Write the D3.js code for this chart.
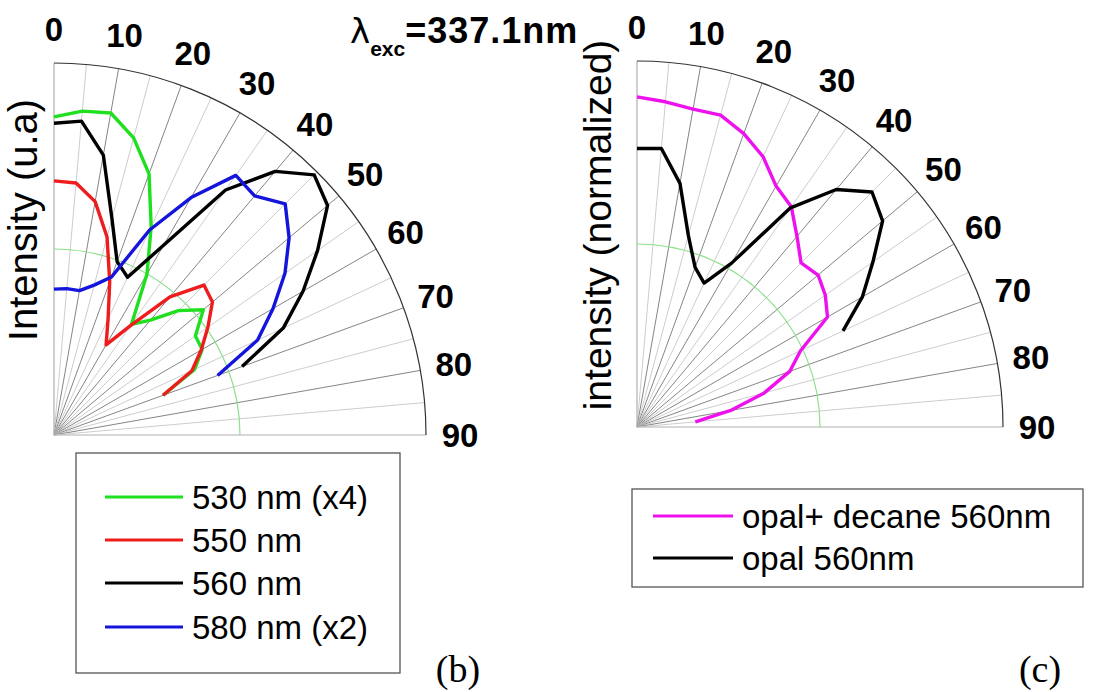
<!DOCTYPE html>
<html><head><meta charset="utf-8">
<script src="https://cdn.jsdelivr.net/npm/d3@7"></script>
<style>body{margin:0;background:#fff}svg{display:block}</style>
</head><body>
<svg id="chart" width="1095" height="692"></svg>
<script>
// ---- data (angle in degrees from vertical, intensity normalized to outer circle) ----
const tickAngles = [0,10,20,30,40,50,60,70,80,90];
const anglesB = [0,5,10,15,20,25,30,35,40,45,50,55,60,65,70];
const green530 = [0.855,0.874,0.879,0.827,0.747,0.618,0.50,0.363,0.403,0.473,0.524,0.464,0.46,0.417,0.312];
const red550   = [0.683,0.68,0.637,0.551,0.438,0.344,0.28,0.36,0.485,0.57,0.556,0.505,0.457,0.409,0.312];
const black560 = [0.838,0.847,0.764,0.602,0.496,0.468,0.589,0.804,0.925,0.989,0.96,0.865,0.773,0.68,0.538];
const blue580  = [0.392,0.395,0.394,0.417,0.452,0.608,0.737,0.852,0.839,0.879,0.825,0.758,0.68,0.604,0.468];
const seriesBNames = ["530 nm (x4)","550 nm","560 nm","580 nm (x2)"];

const anglesC = [0,5,10,15,20,25,30,35,40,45,50,55,60,65,70,75,80,85];
const opalDecane = [0.902,0.892,0.882,0.882,0.853,0.815,0.76,0.735,0.68,0.634,0.646,0.628,0.601,0.493,0.444,0.36,0.26,0.16];
const opal = [0.761,0.764,0.676,0.542,0.464,0.434,0.517,0.731,0.847,0.908,0.876,0.787,0.711,0.621];
const seriesCNames = ["opal+ decane 560nm","opal 560nm"];

const svg = d3.select("#chart");
const FONT = "'Liberation Sans', Arial, Helvetica, sans-serif";

function polarPanel(cx, cy, R, series) {
  const g = svg.append("g").attr("transform", `translate(${cx},${cy})`);
  const r = d3.scaleLinear().domain([0,1]).range([0,R]);
  const rad = d => d * Math.PI / 180;
  // spokes every 5 deg
  d3.range(5, 90, 5).forEach(a => {
    const major = a % 10 === 0;
    g.append("line")
      .attr("x1",0).attr("y1",0)
      .attr("x2", r(1)*Math.sin(rad(a))).attr("y2", -r(1)*Math.cos(rad(a)))
      .attr("stroke", major ? "#858585" : "#cdcdcd").attr("stroke-width", 1);
  });
  // axes
  g.append("line").attr("x1",0).attr("y1",0).attr("x2",0).attr("y2",-r(1)).attr("stroke","#b0b0b0").attr("stroke-width",1.2);
  g.append("line").attr("x1",0).attr("y1",0).attr("x2",r(1)).attr("y2",0).attr("stroke","#b0b0b0").attr("stroke-width",1.2);
  // reference half circle (green)
  const arc = d3.arc().startAngle(0).endAngle(Math.PI/2);
  g.append("path").attr("d", arc({innerRadius:r(0.5), outerRadius:r(0.5)}))
    .attr("fill","none").attr("stroke","#8fe08f").attr("stroke-width",1.2);
  // outer arc
  g.append("path").attr("d", arc({innerRadius:r(1), outerRadius:r(1)}))
    .attr("fill","none").attr("stroke","#333").attr("stroke-width",1.2);
  // tick labels
  g.selectAll("text.tick").data(tickAngles).enter().append("text")
    .attr("x", a => (R+34)*Math.sin(rad(a)))
    .attr("y", a => -(R+34)*Math.cos(rad(a)))
    .attr("text-anchor","middle").attr("dominant-baseline","central")
    .attr("font-family",FONT).attr("font-weight","bold").attr("font-size",33)
    .attr("fill","#000")
    .text(a => a);
  // curves
  series.forEach(s => {
    const pts = s.values.map((v,i) => [rad(s.angles[i]), r(v)]);
    g.append("path").datum(pts)
      .attr("d", d3.lineRadial().angle(d => d[0]).radius(d => d[1]))
      .attr("fill","none").attr("stroke", s.color).attr("stroke-width",3.4)
      .attr("stroke-linejoin","round");
  });
}

polarPanel(54, 435, 372, [
  {angles: anglesB, values: green530, color: "#1fe01f"},
  {angles: anglesB, values: red550, color: "#ee1c1c"},
  {angles: anglesB, values: black560, color: "#000"},
  {angles: anglesB, values: blue580, color: "#1414dc"}
]);
polarPanel(637, 427, 366, [
  {angles: anglesC, values: opalDecane, color: "#ee11ee"},
  {angles: anglesC.slice(0, opal.length), values: opal, color: "#000"}
]);

// axis titles
svg.append("text").attr("transform","translate(37,220) rotate(-90)")
  .attr("text-anchor","middle").attr("font-family",FONT).attr("font-size",40)
  .text("Intensity (u.a)");
svg.append("text").attr("transform","translate(611,225) rotate(-90)")
  .attr("text-anchor","middle").attr("font-family",FONT).attr("font-size",39)
  .text("intensity (normalized)");

// top title
const t = svg.append("text").attr("x",350).attr("y",43).attr("font-family",FONT).attr("font-weight","bold").attr("font-size",36);
t.append("tspan").attr("font-weight","normal").attr("font-family","'DejaVu Sans', sans-serif").attr("font-size",34).text("λ");
t.append("tspan").attr("font-size",21).attr("dy",13).text("exc");
t.append("tspan").attr("dy",-13).attr("letter-spacing",1).text("=337.1nm");

// legends
function legend(x, y, w, h, rows, lx1, lx2, tx) {
  svg.append("rect").attr("x",x).attr("y",y).attr("width",w).attr("height",h)
    .attr("fill","#fff").attr("stroke","#555").attr("stroke-width",1.3);
  rows.forEach(rw => {
    svg.append("line").attr("x1",lx1).attr("x2",lx2).attr("y1",rw.y).attr("y2",rw.y)
      .attr("stroke",rw.color).attr("stroke-width",3);
    svg.append("text").attr("x",tx).attr("y",rw.y).attr("dominant-baseline","central")
      .attr("font-family",FONT).attr("font-size",33).text(rw.name);
  });
}
legend(76, 453, 324, 220, [
  {name: seriesBNames[0], color:"#1fe01f", y:497},
  {name: seriesBNames[1], color:"#ee1c1c", y:540},
  {name: seriesBNames[2], color:"#000", y:583},
  {name: seriesBNames[3], color:"#1414dc", y:627}
], 105, 183, 192);
legend(632, 489, 451, 98, [
  {name: seriesCNames[0], color:"#ee11ee", y:516},
  {name: seriesCNames[1], color:"#000", y:558}
], 653, 733, 742);

// panel letters
svg.append("text").attr("x",458).attr("y",682).attr("text-anchor","middle")
  .attr("font-family","'Liberation Serif', 'Times New Roman', serif").attr("font-size",38).text("(b)");
svg.append("text").attr("x",1040).attr("y",682).attr("text-anchor","middle")
  .attr("font-family","'Liberation Serif', 'Times New Roman', serif").attr("font-size",38).text("(c)");
</script>
</body></html>
